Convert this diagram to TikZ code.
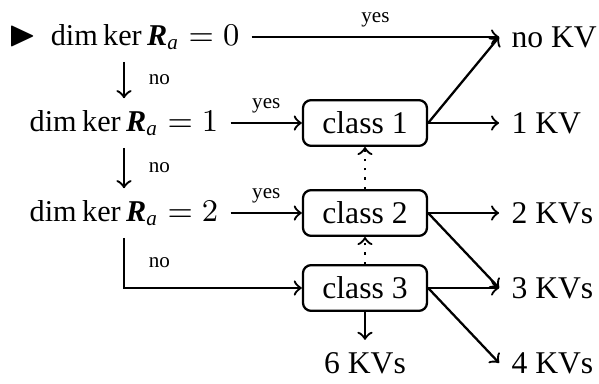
\documentclass[tikz,border=0pt]{standalone}
\usepackage{amsmath, amssymb}
\usepackage{fontspec}
\setmainfont{Liberation Serif}
\usepackage{tikz}
\usetikzlibrary{positioning}
\newcommand{\Ra}{\textbf{\textit{R}}_{\textit{a}}}
\tikzstyle{arrowLine} = [draw, ->, line width=0.65pt]
\tikzstyle{dotArrow} = [draw, ->, dotted, line width=0.65pt]
\tikzstyle{condBlock} = [font=\fontsize{8.6}{10}\selectfont]
\tikzstyle{classBlock} = [draw, rounded corners=0.8mm, font=\small,
    minimum width=1.24cm, minimum height=0.39cm, line width=0.65pt]
\tikzstyle{kvBlock} = [font=\small]
\tikzstyle{yesLabel} = [above, inner sep=2.6pt, font=\fontsize{6}{7}\selectfont]
\tikzstyle{noLabel} = [right=0.12cm, font=\fontsize{6}{7}\selectfont]

\begin{document}
\begin{tikzpicture}[node distance = 2cm]
      \useasboundingbox (0,0) rectangle (5.99,3.83);
      % Place nodes
      \node [condBlock] (dim0) at (1.24,3.46) {\scalebox{1.2}{$\blacktriangleright$}\hspace{1ex}$\dim\ker\Ra = 0$};
      \node [condBlock, below of=dim0, node distance=0.86cm] (dim1) {$\dim\ker\Ra = 1$};
      \node [condBlock, below of=dim1, node distance=0.90cm] (dim2) {$\dim\ker\Ra = 2$};

      \node [classBlock, right of=dim1, node distance=2.41cm] (class1) {class 1};
      \node [classBlock, below of=class1, node distance=0.90cm] (class2) {class 2};
      \node [classBlock, below of=class2, node distance=0.75cm] (class3) {class 3};

      \node [kvBlock, right=0.71cm of class1] (kv1) {1 KV};
      \node [kvBlock, right=0.71cm of class2] (kv2) {2 KVs};
      \node [kvBlock, right=0.71cm of class3] (kv3) {3 KVs};
      \node [kvBlock, below of=class3, node distance=0.75cm] (kv6) {6 KVs};
      \node [kvBlock, anchor=west] (kv0) at (kv1.west |- dim0) {no KV};
      \node [kvBlock, anchor=west] (kv4) at (kv3.west |- kv6) {4 KVs};

      % Connect
      \path [arrowLine] (dim0) -- node [yesLabel] {yes} (kv0.west);
      \path [arrowLine] (dim0) -- node [noLabel] {no} (dim1);
      \path [arrowLine] (dim1) -- node [yesLabel] {yes} (class1);
      \path [arrowLine] (dim1) -- node [noLabel] {no} (dim2);
      \path [arrowLine] (dim2) -- node [yesLabel] {yes} (class2);
      \path [arrowLine] (dim2) |- node [noLabel, pos=0.25] {no} (class3);

      \path [arrowLine] (class1.east) -- (kv0.west);
      \path [arrowLine] (class1) -- (kv1);
      \path [arrowLine] (class2) -- (kv2);
      \path [arrowLine] (class2.east) -- (kv3.west);
      \path [arrowLine] (class3) -- (kv3);
      \path [arrowLine] (class3.east) -- (kv4.west);
      \path [arrowLine] (class3) -- (kv6);

      \path [dotArrow] (class3) -- (class2);
      \path [dotArrow] (class2) -- (class1);
\end{tikzpicture}
\end{document}
